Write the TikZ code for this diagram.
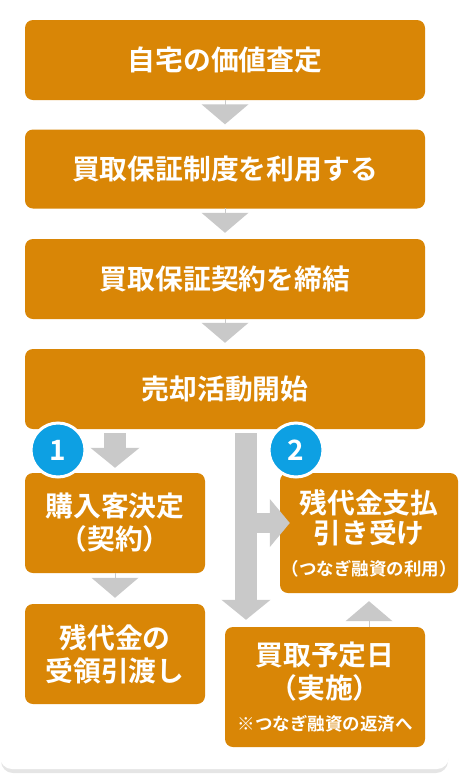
\documentclass[tikz,border=0pt]{standalone}
\usepackage{fontspec}
\newfontfamily\jpfont{Noto Sans CJK JP}[BoldFont={Noto Sans CJK JP Bold}]
\usetikzlibrary{arrows.meta,calc}
\definecolor{steporange}{HTML}{D98606}
\definecolor{arrowgray}{HTML}{C9C9C9}
\definecolor{badgeblue}{HTML}{0DA0E3}
\newcommand\smalljp{\fontsize{17.5}{20}\selectfont}

\begin{document}
\begin{tikzpicture}[x=1pt, y=-1pt,
  every node/.style={text=white, inner sep=0pt, align=center},
  stepbox/.style={fill=steporange, rounded corners=8pt,
    font=\jpfont\bfseries\fontsize{27.8}{33}\selectfont},
  stepwide/.style={stepbox, minimum width=400pt, minimum height=80pt},
  badge/.style={circle, fill=badgeblue, draw=white, line width=3pt,
    minimum size=54pt, font=\jpfont\bfseries\fontsize{28}{30}\selectfont},
  tri/.style={draw=arrowgray, line width=0pt,
    -{Triangle[width=47pt,length=20pt]}},
  bigarrow/.style={draw=arrowgray, line width=22pt,
    -{Triangle[width=48pt,length=20pt]}},
  sidearrow/.style={draw=arrowgray, line width=20pt,
    -{Triangle[width=47pt,length=20pt]}}]
  \useasboundingbox (0,0) rectangle (460,780);
  % panel
  \fill[gray!20, rounded corners=12pt] (1,4) rectangle (448,773);
  \fill[white, rounded corners=12pt] (0,0) rectangle (449,769);

  \node[stepwide] (value)    at (225,60)  {自宅の価値査定};
  \node[stepwide, minimum height=79pt] (system) at (225,169) {買取保証制度を利用する};
  \node[stepwide] (contract) at (225,279) {買取保証契約を締結};
  \node[stepwide] (sell)     at (225,389) {売却活動開始};

  \node[stepbox, minimum width=180pt, minimum height=100pt] (buyer)    at (115,523) {購入客決定\\（契約）};
  \node[stepbox, minimum width=180pt, minimum height=100pt] (handover) at (115,654) {残代金の\\受領引渡し};
  \node[stepbox, minimum width=178pt, minimum height=120pt] (bridge)   at (369,533)
    {残代金支払\\[-3pt]引き受け\\[-1pt]{\smalljp （つなぎ融資の利用）}};
  \node[stepbox, minimum width=200pt, minimum height=120pt] (buyday)   at (325,687)
    {買取予定日\\（実施）\\[-1pt]{\smalljp ※つなぎ融資の返済へ}};

  \draw[tri, shorten >=5pt] (value) -- (system);
  \draw[tri, shorten >=6pt] (system) -- (contract);
  \draw[tri, shorten >=6pt] (contract) -- (sell);
  \draw[tri, shorten >=6pt] (buyer) -- (handover);
  \draw[tri, shorten >=8pt] (bridge.south |- buyday.north) -- (bridge.south);

  \draw[bigarrow, shorten >=5pt] ($(buyer.north |- sell.south)+(0,4)$) -- (buyer.north);
  \coordinate (trunk) at ($(sell.south)+(21,4)$);
  \coordinate (branch) at ($(bridge.west)+(10,-10)$);
  \draw[sidearrow] (trunk |- branch) -- (branch);
  \draw[bigarrow, shorten >=7pt] (trunk) -- (trunk |- buyday.north);

  \node[badge] (one) at (58,450)  {1};
  \node[badge] (two) at (296,450) {2};
\end{tikzpicture}
\end{document}
